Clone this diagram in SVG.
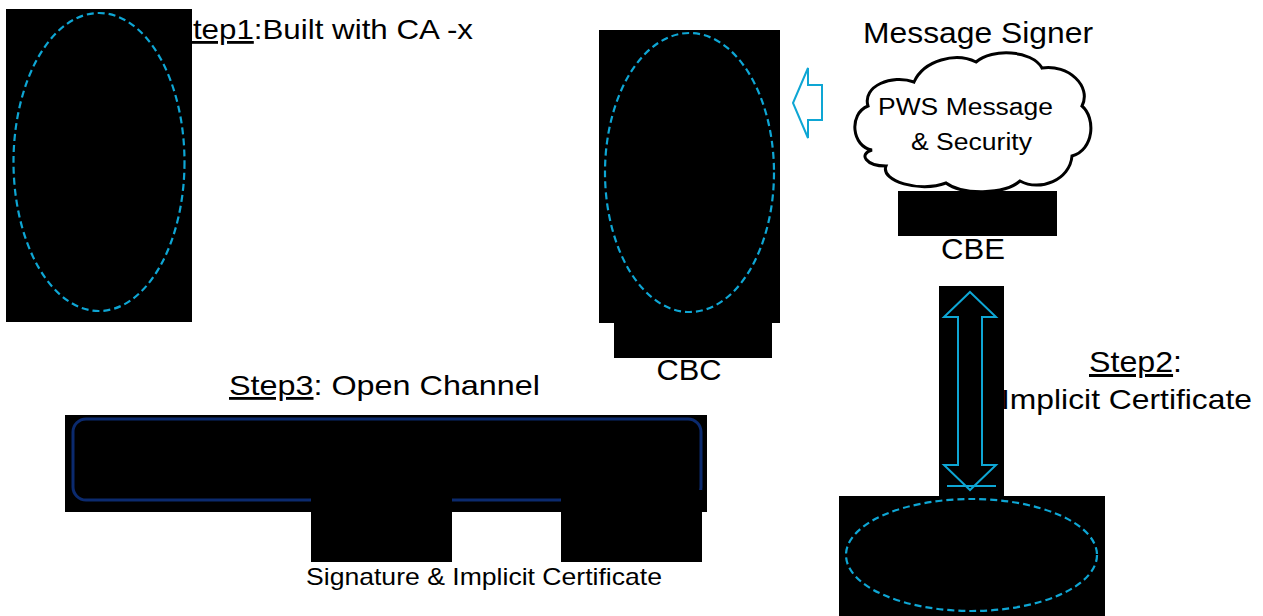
<svg xmlns="http://www.w3.org/2000/svg" width="1263" height="616" viewBox="0 0 1263 616">
<defs>
<style>
.t{font-family:"Liberation Sans",Arial,sans-serif;fill:#000}
.blk{fill:#000}
.dash{fill:none;stroke:#0ea6d4;stroke-width:2.2;stroke-dasharray:7 4}
.arr{fill:none;stroke:#0ea6d4;stroke-width:2;stroke-linejoin:miter}
.u{text-decoration:underline}
</style>
<filter id="fz" x="-5%" y="-5%" width="110%" height="110%"><feGaussianBlur stdDeviation="0.7"/></filter>
</defs>
<rect width="1263" height="616" fill="#fff"/>

<g id="labels">
<text class="t" x="172" y="39" font-size="28" textLength="301" lengthAdjust="spacingAndGlyphs"><tspan class="u">Step1</tspan>:Built with CA -x</text>
<text class="t" x="863" y="43" font-size="30" textLength="230" lengthAdjust="spacingAndGlyphs">Message Signer</text>
<text class="t" x="1089" y="372" font-size="30" textLength="93" lengthAdjust="spacingAndGlyphs"><tspan class="u">Step2</tspan>:</text>
<text class="t" x="1001" y="409" font-size="28" textLength="251" lengthAdjust="spacingAndGlyphs">Implicit Certificate</text>
<text class="t" x="229" y="395" font-size="28" textLength="311" lengthAdjust="spacingAndGlyphs"><tspan class="u">Step3</tspan>: Open Channel</text>
<text class="t" x="306" y="585" font-size="24" textLength="356" lengthAdjust="spacingAndGlyphs">Signature &amp; Implicit Certificate</text>
</g>

<g id="node-ca">
<rect class="blk" x="6" y="9" width="186" height="313"/>
<ellipse class="dash" cx="99" cy="162" rx="85.5" ry="149"/>
</g>

<g id="node-cbc">
<rect class="blk" x="599" y="30" width="181" height="293"/>
<rect class="blk" x="614" y="322" width="158" height="36"/>
<ellipse class="dash" cx="689.5" cy="172.5" rx="84.5" ry="139.5"/>
<text class="t" x="689" y="380" font-size="29" text-anchor="middle" textLength="65" lengthAdjust="spacingAndGlyphs">CBC</text>
</g>

<g id="node-cbe">
<path d="M872,150 C852,147 848,114 868,106 C862,86 892,74 914,82 C924,60 956,52 976,62 C992,48 1032,50 1042,68 C1068,64 1092,86 1082,106 C1096,118 1094,150 1072,156 C1070,180 1040,192 1020,181 C1004,195 962,195 946,183 C920,193 880,181 886,166 C866,166 858,154 872,150 Z" fill="#fff" stroke="#000" stroke-width="3" filter="url(#fz)"/>
<text class="t" x="878" y="115" font-size="23" textLength="175" lengthAdjust="spacingAndGlyphs">PWS Message</text>
<text class="t" x="911" y="150" font-size="23" textLength="121" lengthAdjust="spacingAndGlyphs">&amp; Security</text>
<rect class="blk" x="898" y="191" width="159" height="45"/>
<text class="t" x="973" y="259" font-size="30" text-anchor="middle" textLength="64" lengthAdjust="spacingAndGlyphs">CBE</text>
</g>

<g id="node-device">
<rect class="blk" x="939" y="286" width="65" height="210"/>
<rect class="blk" x="839" y="496" width="266" height="120"/>
<ellipse class="dash" cx="971.5" cy="555" rx="125.5" ry="56"/>
</g>

<g id="node-channel">
<rect class="blk" x="65" y="415" width="642" height="97"/>
<rect x="73" y="419" width="628" height="81" rx="13" fill="none" stroke="#0b2a6e" stroke-width="3"/>
<rect class="blk" x="311" y="496" width="141" height="66"/>
<rect class="blk" x="561" y="490" width="141" height="72"/>
</g>

<g id="connectors">
<polygon class="arr" points="793,103 808,68 808,85 822,85 822,120 808,120 808,138"/>
<polygon class="arr" points="970,292 996,317 982,317 982,465 996,465 970,490 944,465 958,465 958,317 944,317"/>
<line x1="947" y1="486" x2="996" y2="486" stroke="#0ea6d4" stroke-width="2"/>
</g>
</svg>
